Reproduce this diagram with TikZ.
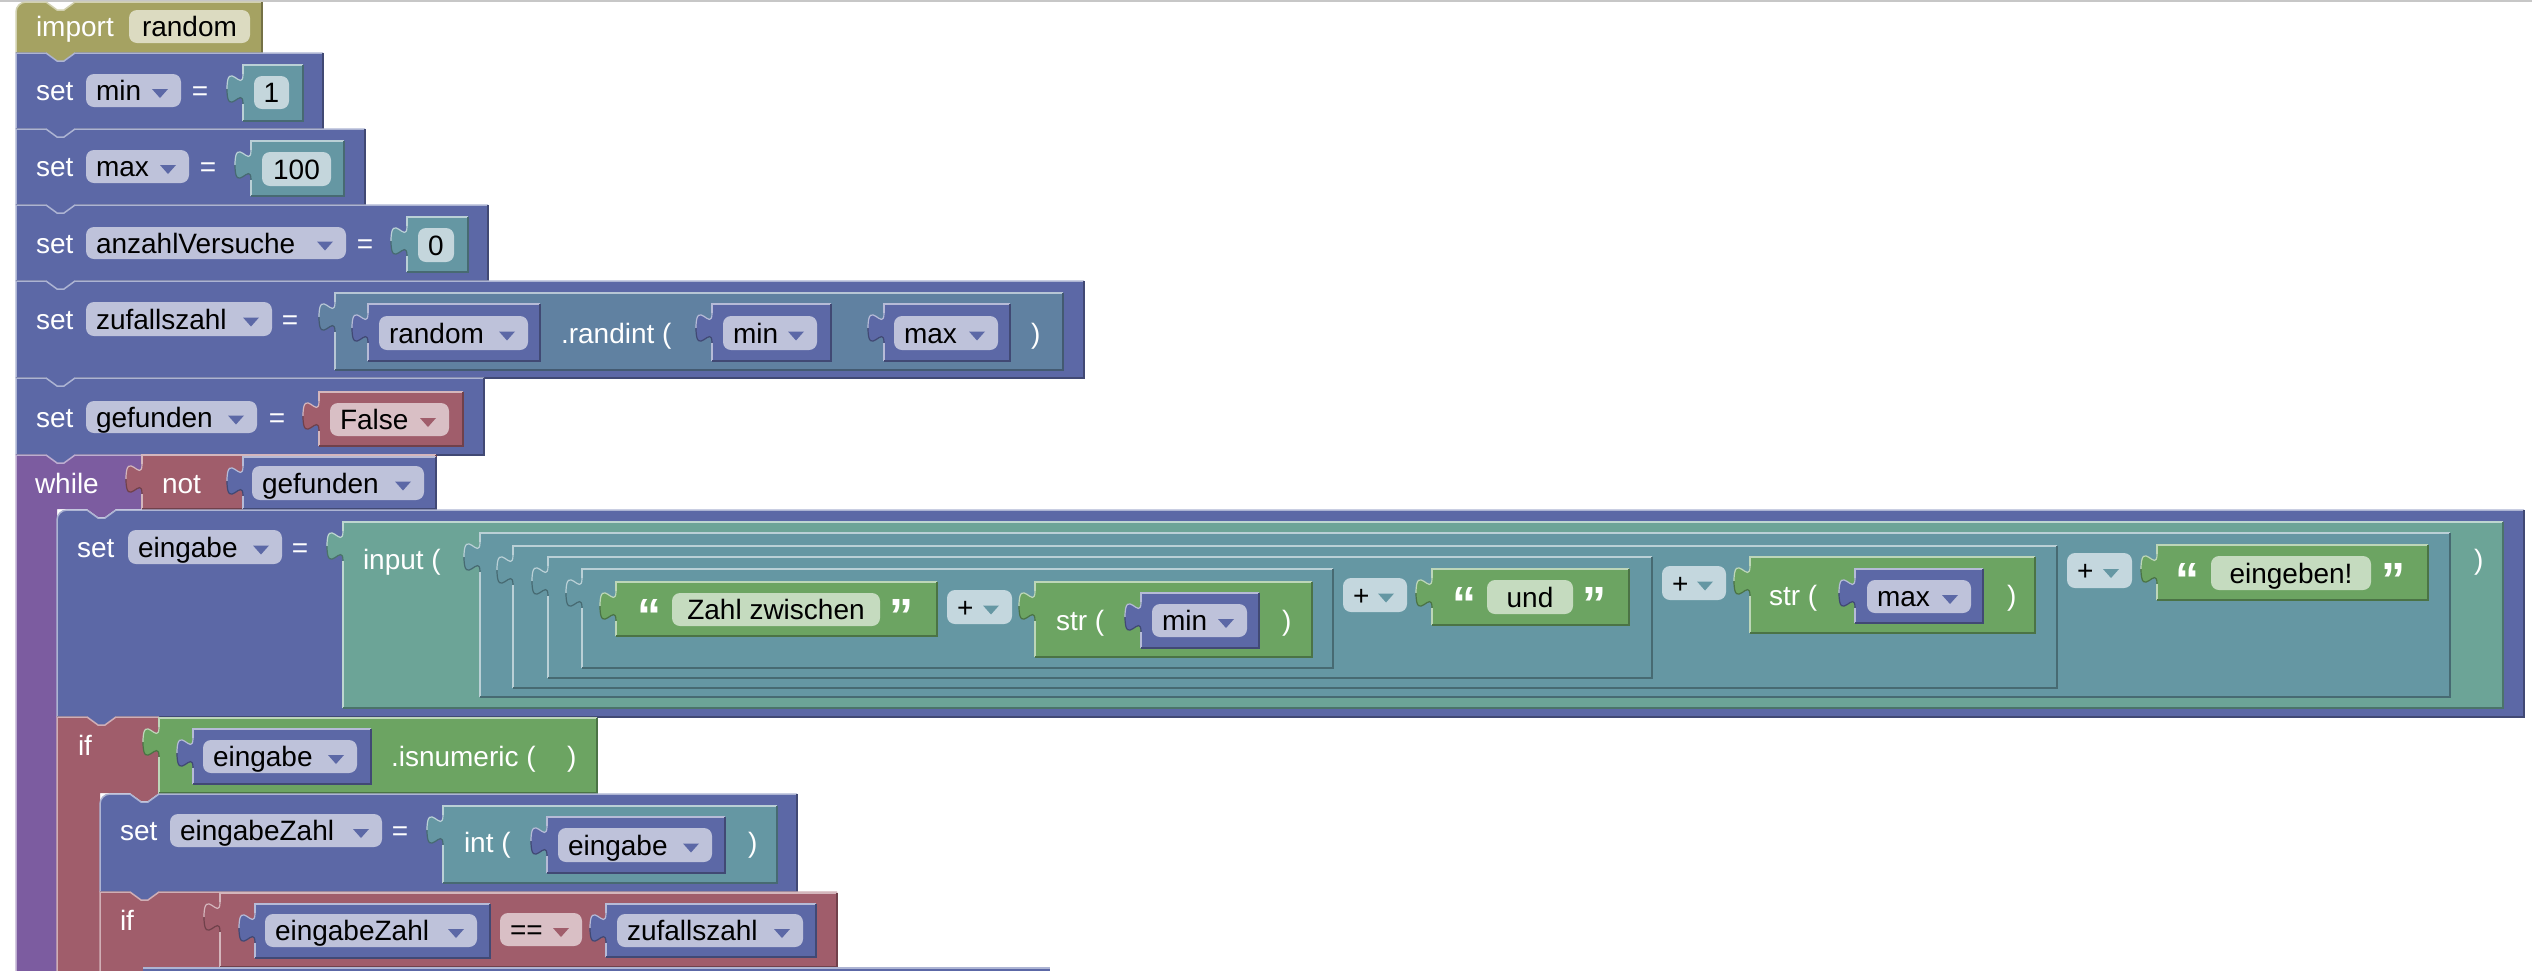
\documentclass[tikz,border=0pt]{standalone}
\usepackage{fontspec}
\setmainfont{Liberation Sans}
\definecolor{cImp}{RGB}{165,162,98}
\definecolor{cImpF}{RGB}{220,219,193}
\definecolor{cVar}{RGB}{92,104,166}
\definecolor{cVarF}{RGB}{190,194,218}
\definecolor{cNum}{RGB}{101,151,163}
\definecolor{cNumF}{RGB}{196,214,220}
\definecolor{cPlusF}{RGB}{196,215,222}
\definecolor{cMeth}{RGB}{96,129,161}
\definecolor{cIn}{RGB}{108,164,151}
\definecolor{cTxt}{RGB}{108,164,98}
\definecolor{cTxtF}{RGB}{197,219,191}
\definecolor{cLog}{RGB}{160,93,107}
\definecolor{cLogF}{RGB}{217,191,197}
\definecolor{cLoop}{RGB}{124,92,160}
\newcounter{nd}
\newcommand\qfont{\fontsize{48}{48}\selectfont\bfseries}
% white label
\newcommand\lbl[3]{\stepcounter{nd}\node[anchor=base west,text=white] (n\arabic{nd}) at (#1,#2) {#3};}
\newcommand\eq[2]{\stepcounter{nd}\node[anchor=base,text=white] (n\arabic{nd}) at (#1,#2) {=};}
\newcommand\qq[3]{\stepcounter{nd}\node[anchor=base west,text=white,font=\qfont] (n\arabic{nd}) at (#1,#2) {#3};}
% dropdown field
\newcommand\dd[7]{%
 \fill[#5,rounded corners=8pt] (#1,#2) rectangle (#3,#4);
 \stepcounter{nd}\node[anchor=base west] (n\arabic{nd}) at (#1+10,{(#2+#4)/2+10}) {#7};
 \fill[#6] (#3-29,{(#2+#4)/2-1.5}) -- (#3-13,{(#2+#4)/2-1.5}) -- (#3-21,{(#2+#4)/2+7.5}) -- cycle;}
% plain field
\newcommand\pf[6]{%
 \fill[#5,rounded corners=8pt] (#1,#2) rectangle (#3,#4);
 \stepcounter{nd}\node[anchor=base] (n\arabic{nd}) at ({(#1+#3)/2},{(#2+#4)/2+10}) {#6};}
% value block with output tab
\newcommand\vb[5]{%
 \fill[#1] (#2,#3) rectangle (#4,#5);
 \fill[#1] (#2,#3+9) .. controls (#2,#3+29) and (#2-16,#3-7) .. (#2-16,#3+24) .. controls (#2-16,#3+55) and (#2,#3+19) .. (#2,#3+39) -- cycle;
 \draw[#1!45!white,line width=1.2pt] (#2,#3+9) .. controls (#2,#3+29) and (#2-16,#3-7) .. (#2-16,#3+24);
 \draw[#1!70!black,line width=1.2pt] (#2-16,#3+24) .. controls (#2-16,#3+55) and (#2,#3+19) .. (#2,#3+39);
 \draw[#1!45!white,line width=1.2pt] (#2,#3+9) -- (#2,#3) -- (#4,#3);
 \draw[#1!45!white,line width=1.2pt] (#2,#3+39) -- (#2,#5);
 \draw[#1!70!black,line width=1.2pt] (#4,#3) -- (#4,#5) -- (#2,#5);}
% statement block, notch on top, tab below
\newcommand\sblk[5]{%
 \fill[#1] (#2,#3) -- (#2+30,#3) -- (#2+41,#3+8) -- (#2+48,#3+8) -- (#2+59,#3) -- (#4,#3) -- (#4,#5) -- (#2+59,#5) -- (#2+48,#5+8) -- (#2+41,#5+8) -- (#2+30,#5) -- (#2,#5) -- cycle;
 \draw[#1!50!white,line width=1.5pt] (#2,#5) -- (#2,#3) -- (#2+30,#3) -- (#2+41,#3+8) -- (#2+48,#3+8) -- (#2+59,#3) -- (#4,#3);
 \draw[#1!70!black,line width=1.5pt] (#4,#3) -- (#4,#5) -- (#2+59,#5);
 \draw[#1!70!black,line width=1.5pt] (#2+30,#5) -- (#2,#5);}
% same with rounded top-left corner
\newcommand\sblkr[5]{%
 \fill[#1] (#2,#3+10) .. controls (#2,#3+4.5) and (#2+4.5,#3) .. (#2+10,#3) -- (#2+30,#3) -- (#2+41,#3+8) -- (#2+48,#3+8) -- (#2+59,#3) -- (#4,#3) -- (#4,#5) -- (#2+59,#5) -- (#2+48,#5+8) -- (#2+41,#5+8) -- (#2+30,#5) -- (#2,#5) -- cycle;
 \draw[#1!50!white,line width=1.5pt] (#2,#5) -- (#2,#3+10) .. controls (#2,#3+4.5) and (#2+4.5,#3) .. (#2+10,#3) -- (#2+30,#3) -- (#2+41,#3+8) -- (#2+48,#3+8) -- (#2+59,#3) -- (#4,#3);
 \draw[#1!70!black,line width=1.5pt] (#4,#3) -- (#4,#5) -- (#2+59,#5);
 \draw[#1!70!black,line width=1.5pt] (#2+30,#5) -- (#2,#5);}
\tikzset{every node/.style={inner sep=0pt,outer sep=0pt,font=\fontsize{28}{32}\selectfont}}
\begin{document}
\begin{tikzpicture}[x=1pt,y=-1pt]
\useasboundingbox (0,0) rectangle (2532,970);
\fill[white] (0,0) rectangle (2532,970);
\clip (0,0) rectangle (2532,970);
\draw[black!22,line width=1.5pt] (0,0.75) -- (2532,0.75);
% import random
\sblkr{cImp}{16}{2}{262}{53}
\lbl{36}{36.5}{import}
\pf{129}{10}{250}{43}{cImpF}{random}
% set min = 1
\sblk{cVar}{16}{53}{323}{129}
\lbl{36}{100.5}{set}
\dd{86}{74}{181}{107}{cVarF}{cVar}{min}
\eq{200}{100.5}
\vb{cNum}{243}{65}{303}{121}
\pf{254}{76}{289}{109}{cNumF}{1}
% set max = 100
\sblk{cVar}{16}{129}{365}{205}
\lbl{36}{176.5}{set}
\dd{86}{150}{189}{183}{cVarF}{cVar}{max}
\eq{208}{176.5}
\vb{cNum}{251}{141}{344}{196}
\pf{262}{152}{331}{186}{cNumF}{100}
% set anzahlVersuche = 0
\sblk{cVar}{16}{205}{488}{281}
\lbl{36}{253}{set}
\dd{86}{227}{346}{259}{cVarF}{cVar}{anzahlVersuche}
\eq{365}{253}
\vb{cNum}{407}{217}{468}{272}
\pf{418}{228}{454}{262}{cNumF}{0}
% set zufallszahl = random.randint(min, max)
\sblk{cVar}{16}{281}{1084}{378}
\lbl{36}{329}{set}
\dd{86}{302}{272}{336}{cVarF}{cVar}{zufallszahl}
\eq{290}{329}
\vb{cMeth}{335}{293}{1063}{370}
\vb{cVar}{368}{304}{540}{361}
\dd{379}{316}{528}{350}{cVarF}{cVar}{random}
\lbl{561}{343}{.randint (}
\vb{cVar}{712}{304}{831}{361}
\dd{723}{316}{817}{350}{cVarF}{cVar}{min}
\vb{cVar}{884}{304}{1010}{361}
\dd{894}{316}{998}{350}{cVarF}{cVar}{max}
\lbl{1031}{343}{)}
% set gefunden = False
\sblk{cVar}{16}{378}{484}{455}
\lbl{36}{427}{set}
\dd{86}{401}{257}{433}{cVarF}{cVar}{gefunden}
\eq{277}{427}
\vb{cLog}{319}{392}{463}{446}
\dd{330}{403}{449}{436}{cLogF}{cLog}{False}
% while not gefunden
\fill[cLoop] (16,455) -- (46,455) -- (57,463) -- (64,463) -- (75,455) -- (142,455) -- (142,509) -- (116,509) -- (105,517) -- (98,517) -- (87,509) -- (57,509) -- (57,975) -- (16,975) -- cycle;
\draw[cLoop!50!white,line width=1.5pt] (16,975) -- (16,455) -- (46,455) -- (57,463) -- (64,463) -- (75,455) -- (142,455);
\lbl{35}{493}{while}
\vb{cLog}{142}{455}{436}{509}
\lbl{162}{493}{not}
\vb{cVar}{243}{457}{436}{509}
\dd{252}{466}{424}{500}{cVarF}{cVar}{gefunden}
% set eingabe = input(...)
\sblkr{cVar}{57}{510}{2524}{717}
\lbl{77}{557}{set}
\dd{128}{530}{282}{564}{cVarF}{cVar}{eingabe}
\eq{300}{557}
\vb{cIn}{343}{522}{2503}{708}
\lbl{363}{569}{input (}
\lbl{2474}{569}{)}
\vb{cNum}{480}{533}{2450}{697}
\vb{cNum}{513}{546}{2057}{688}
\vb{cNum}{548}{557}{1652}{678}
\vb{cNum}{582}{569}{1333}{668}
\vb{cTxt}{616}{582}{937}{636}
\qq{637}{632.5}{“}
\pf{672}{593}{880}{626}{cTxtF}{Zahl zwischen}
\qq{889}{632.5}{”}
\dd{947}{590}{1012}{624}{cPlusF}{cNum}{+}
\vb{cTxt}{1035}{582}{1312}{657}
\lbl{1056}{630}{str (}
\vb{cVar}{1141}{593}{1259}{648}
\dd{1152}{604}{1247}{637}{cVarF}{cVar}{min}
\lbl{1282}{630}{)}
\dd{1343}{578}{1407}{612}{cPlusF}{cNum}{+}
\vb{cTxt}{1432}{569}{1629}{625}
\qq{1452}{620}{“}
\pf{1487}{580}{1573}{614}{cTxtF}{und}
\qq{1582}{620}{”}
\dd{1662}{566}{1726}{600}{cPlusF}{cNum}{+}
\vb{cTxt}{1750}{557}{2035}{633}
\lbl{1769}{605}{str (}
\vb{cVar}{1855}{569}{1983}{623}
\dd{1867}{580}{1971}{613}{cVarF}{cVar}{max}
\lbl{2007}{605}{)}
\dd{2067}{553}{2132}{588}{cPlusF}{cNum}{+}
\vb{cTxt}{2157}{545}{2428}{600}
\qq{2175}{596}{“}
\pf{2211}{556}{2371}{590}{cTxtF}{eingeben!}
\qq{2381}{596}{”}
% if eingabe.isnumeric()
\fill[cLog] (57,717) -- (87,717) -- (98,725) -- (105,725) -- (116,717) -- (159,717) -- (159,793) -- (148,801) -- (141,801) -- (130,793) -- (100,793) -- (100,975) -- (57,975) -- cycle;
\draw[cLog!50!white,line width=1.5pt] (57,975) -- (57,717) -- (87,717) -- (98,725) -- (105,725) -- (116,717) -- (159,717);
\lbl{78}{755}{if}
\vb{cTxt}{159}{718}{597}{793}
\vb{cVar}{193}{729}{371}{784}
\dd{203}{740}{357}{773}{cVarF}{cVar}{eingabe}
\lbl{391}{766.5}{.isnumeric (}
\lbl{567}{766.5}{)}
% set eingabeZahl = int(eingabe)
\sblkr{cVar}{100}{794}{797}{892}
\lbl{120}{840.5}{set}
\dd{170}{814}{382}{847}{cVarF}{cVar}{eingabeZahl}
\eq{400}{840.5}
\vb{cNum}{443}{806}{777}{883}
\lbl{464}{852}{int (}
\vb{cVar}{547}{817}{725}{873}
\dd{558}{828}{712}{862}{cVarF}{cVar}{eingabe}
\lbl{748}{852}{)}
% if eingabeZahl == zufallszahl
\fill[cLog] (100,892) -- (130,892) -- (141,900) -- (148,900) -- (159,892) -- (837,892) -- (837,967) -- (143,967) -- (143,975) -- (100,975) -- cycle;
\draw[cLog!50!white,line width=1.5pt] (100,975) -- (100,892) -- (130,892) -- (141,900) -- (148,900) -- (159,892) -- (837,892);
\lbl{120}{930}{if}
\vb{cLog}{220}{893}{837}{967}
\vb{cVar}{255}{904}{490}{958}
\dd{265}{914}{477}{947}{cVarF}{cVar}{eingabeZahl}
\dd{500}{913}{582}{946}{cLogF}{cLog}{==}
\vb{cVar}{606}{904}{816}{957}
\dd{617}{914}{803}{947}{cVarF}{cVar}{zufallszahl}
% next block (cut off)
\fill[cVar] (143,967) rectangle (1050,975);
\draw[cVar!50!white,line width=1.5pt] (143,967.75) -- (1050,967.75);
\end{tikzpicture}
\end{document}
